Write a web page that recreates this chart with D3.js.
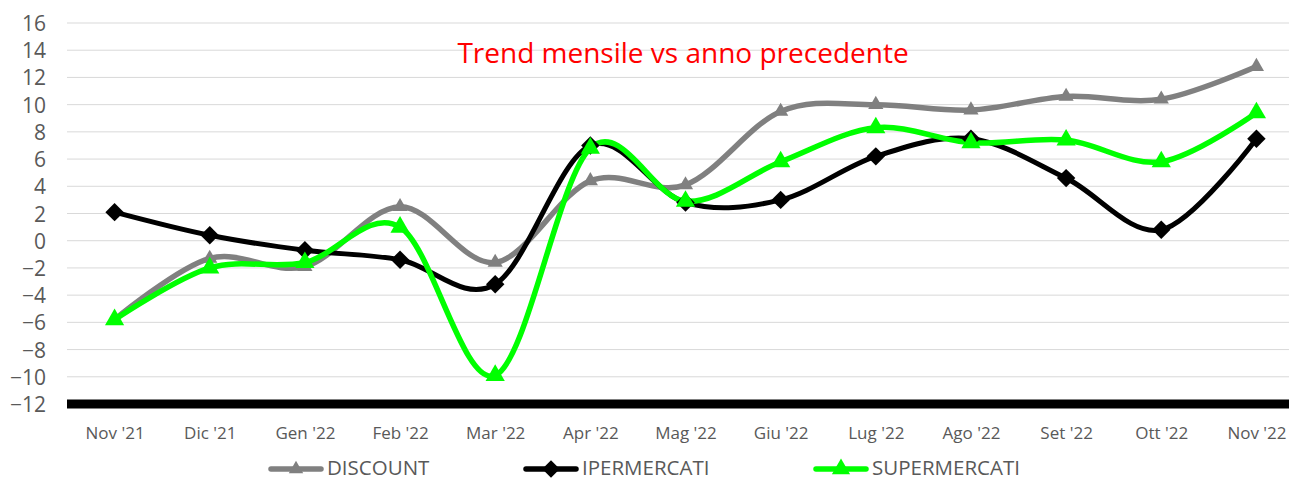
<!DOCTYPE html>
<html><head><meta charset="utf-8">
<script src="https://cdn.jsdelivr.net/npm/d3@7"></script>
<style>
body{margin:0;background:#fff;}
svg{display:block;}
text{font-family:"Open Sans","Noto Sans",sans-serif;}
</style></head>
<body><svg id="c" width="1289" height="480"></svg>
<script>
const categories = ["Nov '21","Dic '21","Gen '22","Feb '22","Mar '22","Apr '22","Mag '22","Giu '22","Lug '22","Ago '22","Set '22","Ott '22","Nov '22"];
const discount = [-5.8,-1.3,-1.9,2.5,-1.6,4.4,4.1,9.5,10.0,9.6,10.6,10.4,12.8];
const ipermercati = [2.1,0.4,-0.7,-1.4,-3.2,7.0,2.8,3.0,6.2,7.5,4.6,0.8,7.5];
const supermercati = [-5.8,-2.0,-1.6,1.0,-9.9,6.8,2.9,5.8,8.3,7.2,7.4,5.8,9.4];
const yTicks = [16,14,12,10,8,6,4,2,0,-2,-4,-6,-8,-10,-12];
const seriesNames = ["DISCOUNT","IPERMERCATI","SUPERMERCATI"];
const seriesColors = ["#808080","#000000","#00ff00"];

const svg = d3.select("#c");
const pL = 67, pR = 1304, pT = 23, pB = 404;
const x = d3.scalePoint().domain(categories).range([pL, pR]).padding(0.5);
const y = d3.scaleLinear().domain([-12,16]).range([pB, pT]);

// gridlines
svg.append("g").selectAll("line").data(yTicks.filter(t=>t>-12)).join("line")
  .attr("x1", pL).attr("x2", 1289).attr("y1", d=>y(d)).attr("y2", d=>y(d))
  .attr("stroke", "#d9d9d9").attr("stroke-width", 1);

// y axis labels
const yAxis = d3.axisLeft(y).tickValues(yTicks).tickSize(0).tickPadding(0);
const gy = svg.append("g").attr("transform", `translate(${pL-21},0)`).call(yAxis);
gy.select(".domain").remove();
gy.selectAll("text").attr("font-size", 21).attr("fill", "#595959").attr("dy","0.36em").style("font-family","'Open Sans',sans-serif");

// x axis
const xAxis = d3.axisBottom(x).tickSize(0).tickPadding(0);
const gx = svg.append("g").attr("transform", `translate(0,${pB})`).call(xAxis);
gx.select(".domain").remove();
gx.selectAll("text").attr("font-size", 17).attr("fill", "#595959").attr("dy",null).attr("y",35).style("font-family","'Open Sans',sans-serif");

// thick base line
svg.append("line").attr("x1", pL).attr("x2", 1289).attr("y1", y(-12)).attr("y2", y(-12))
  .attr("stroke", "#000").attr("stroke-width", 9);

// title
svg.append("text").attr("x", 683).attr("y", 63).attr("text-anchor","middle")
  .attr("font-size", 28).attr("fill", "#ff0000").text("Trend mensile vs anno precedente");

const line = d3.line().x((d,i)=>x(categories[i])).y(d=>y(d)).curve(d3.curveCatmullRom.alpha(0));
const all = [discount, ipermercati, supermercati];
const markerSym = [d3.symbolTriangle, d3.symbolSquare, d3.symbolTriangle];
const markerRot = [0, 45, 0];
const markerSize = [100, 170, 160];
const strokeW = [5.5, 5, 5.5];

all.forEach((vals, k) => {
  svg.append("path").datum(vals).attr("d", line).attr("fill","none")
    .attr("stroke", seriesColors[k]).attr("stroke-width", strokeW[k]).attr("stroke-linejoin","round");
});
all.forEach((vals, k) => {
  svg.append("g").selectAll("path").data(vals).join("path")
    .attr("transform", (d,i)=>`translate(${x(categories[i])},${y(d)}) rotate(${markerRot[k]})`)
    .attr("d", d3.symbol().type(markerSym[k]).size(markerSize[k]))
    .attr("fill", seriesColors[k]);
});

// legend
const legX = [269, 524, 814];
const lg = svg.append("g");
seriesNames.forEach((n,k)=>{
  const g = lg.append("g").attr("transform", `translate(${legX[k]},469)`);
  g.append("line").attr("x1",2).attr("x2",52).attr("y1",0).attr("y2",0)
    .attr("stroke", seriesColors[k]).attr("stroke-width",5.5).attr("stroke-linecap","round");
  g.append("path").attr("transform",`translate(27,0) rotate(${markerRot[k]})`)
    .attr("d", d3.symbol().type(markerSym[k]).size(markerSize[k]*0.9)).attr("fill", seriesColors[k]);
  g.append("text").attr("x",58).attr("y",6).attr("font-size",20.5).attr("fill","#595959").text(n);
});
</script></body></html>
